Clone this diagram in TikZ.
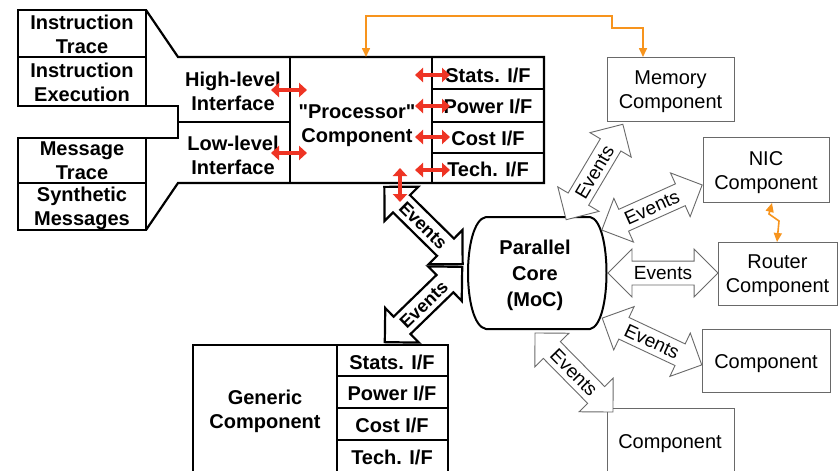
\documentclass[tikz,border=0pt]{standalone}
\usepackage{fontspec}
\setmainfont{Liberation Sans}[Ligatures=TeXOff]
\usetikzlibrary{shapes.arrows,arrows.meta}
\definecolor{redarr}{RGB}{238,52,36}
\definecolor{orangearr}{RGB}{247,148,29}
\definecolor{boxgray}{RGB}{105,105,105}
\begin{document}
\begin{tikzpicture}[x=1pt,y=-1pt,
  lbl/.style={align=center, font=\fontsize{20}{24}\selectfont\bfseries, inner sep=0pt},
  rlbl/.style={align=center, font=\fontsize{20}{24}\selectfont, inner sep=0pt},
  blk/.style={line width=2.2pt, line join=miter},
  graybox/.style={draw=boxgray, line width=1pt, inner sep=0pt},
  redbi/.style={draw=redarr, line width=4pt, {Triangle[length=8pt,width=14pt]}-{Triangle[length=8pt,width=14pt]}},
  orangebi/.style={draw=orangearr, line width=1.6pt, {Triangle[length=9pt,width=8pt]}-{Triangle[length=9pt,width=8pt]}},
  evbold/.style={double arrow, draw=black, line width=2.2pt, fill=white, minimum height=#1, double arrow head extend=12pt, inner xsep=2pt, inner ysep=4.5pt, text height=13pt, text depth=0pt, font=\fontsize{18}{18}\selectfont\bfseries},
  evthin/.style={double arrow, draw=boxgray, line width=0.9pt, fill=white, minimum height=#1, double arrow head extend=12pt, inner xsep=2pt, inner ysep=5pt, text height=13pt, text depth=0pt, font=\fontsize{19}{19}\selectfont},
]
\useasboundingbox[fill=white] (0,0) rectangle (839,471);

% ---------- left input boxes and funnel ----------
\draw[blk] (18,10) rectangle (146,106);
\draw[blk] (18,57) -- (146,57);
\draw[blk] (18,138) rectangle (146,230);
\draw[blk] (18,183) -- (146,183);
\draw[blk] (146,10) -- (178,57) -- (544,57) -- (544,183) -- (178,183) -- (146,230);
\draw[blk] (146,106) -- (178,106) -- (178,138) -- (146,138);
\draw[blk] (178,122) -- (290,122);
\draw[blk] (290,57) -- (290,183);
\draw[blk] (432,57) -- (432,183);
\draw[blk] (432,89) -- (544,89);
\draw[blk] (432,122) -- (544,122);
\draw[blk] (432,153) -- (544,153);

\node[lbl] (it) at (82,34) {Instruction\\Trace};
\node[lbl] (ie) at (82,82) {Instruction\\Execution};
\node[lbl] (mt) at (82,161) {Message\\Trace};
\node[lbl] (sm) at (82,208) {Synthetic\\Messages};
\node[lbl] (hl) at (233,91) {High-level\\Interface};
\node[lbl] (ll) at (233,155) {Low-level\\Interface};
\node[lbl] (pc) at (357,126) {"Processor"\\Component};
\node[lbl] (ps) at (488,75) {Stats. I/F};
\node[lbl] (pp) at (488,106) {Power I/F};
\node[lbl] (pco) at (488,138) {Cost I/F};
\node[lbl] (pt) at (488,169) {Tech. I/F};

% ---------- generic component ----------
\draw[blk] (193,345) rectangle (448,473);
\draw[blk] (337,345) -- (337,473);
\draw[blk] (337,376) -- (448,376);
\draw[blk] (337,408) -- (448,408);
\draw[blk] (337,440) -- (448,440);
\node[lbl] (gc) at (265,411) {Generic\\Component};
\node[lbl] (gs) at (392,362) {Stats. I/F};
\node[lbl] (gp) at (392,393) {Power I/F};
\node[lbl] (gco) at (392,425) {Cost I/F};
\node[lbl] (gt) at (392,457) {Tech. I/F};

% ---------- parallel core ----------
\draw[line width=2pt] (486,217) -- (590,217)
  .. controls (612,221) and (612,325) .. (590,329) -- (486,329)
  .. controls (462,325) and (462,221) .. (486,217);
\node[lbl, font=\fontsize{20}{26}\selectfont\bfseries] (core) at (535,275) {Parallel\\Core\\(MoC)};

% ---------- right components ----------
\node[graybox, minimum width=127pt, minimum height=64pt] (mem) at (670.5,89) {};
\node[graybox, minimum width=126pt, minimum height=65pt] (nic) at (766,169.5) {};
\node[graybox, minimum width=119pt, minimum height=63pt] (rt) at (777.5,273.5) {};
\node[graybox, minimum width=128pt, minimum height=63pt] (c1) at (766,360.5) {};
\draw[draw=boxgray, line width=1pt] (607,408) rectangle (734,485);
\node[rlbl] (meml) at (670.5,92) {Memory\\Component};
\node[rlbl] (nicl) at (766,172.5) {NIC\\Component};
\node[rlbl] (rtl) at (777.5,276) {Router\\Component};
\node[rlbl] (c1l) at (766,363.5) {Component};
\node[rlbl] (c2l) at (670,444) {Component};

% ---------- event arrows ----------
\node[evbold=110pt, rotate=-44.6] (evp) at (423.5,225.5) {Events};
\node[evbold=108pt, rotate=44.2] (evg) at (423.5,304.5) {Events};
\node[evthin=111pt, rotate=59.3] (evm) at (594.5,172) {Events};
\node[evthin=110pt, rotate=24.2] (evn) at (652,207.5) {Events};
\node[evthin=110pt, rotate=0] (evr) at (663,273) {Events};
\node[evthin=110pt, rotate=-25.2] (evc1) at (652,341.5) {Events};
\node[evthin=111pt, rotate=-45.4] (evc2) at (574,372.5) {Events};

% ---------- red interface arrows ----------
\draw[redbi] (271,90) -- (307,90);
\draw[redbi] (271,153) -- (307,153);
\draw[redbi] (415,75) -- (450,75);
\draw[redbi] (415,106) -- (450,106);
\draw[redbi] (415,137) -- (450,137);
\draw[redbi] (415,170) -- (450,170);
\draw[redbi] (400,168) -- (400,202);

% ---------- orange connectors ----------
\coordinate (procTop) at (366,57);
\coordinate (memTop) at (643,57);
\draw[orangebi] (procTop) -- (366,16) -- (612,16) -- (612,28) -- (643,28) -- (memTop);
\coordinate (nicBot) at (772,203);
\coordinate (rtTop) at (777,242);
\draw[orangebi] (nicBot) -- (769,214) -- (779,221) -- (rtTop);
\end{tikzpicture}
\end{document}
